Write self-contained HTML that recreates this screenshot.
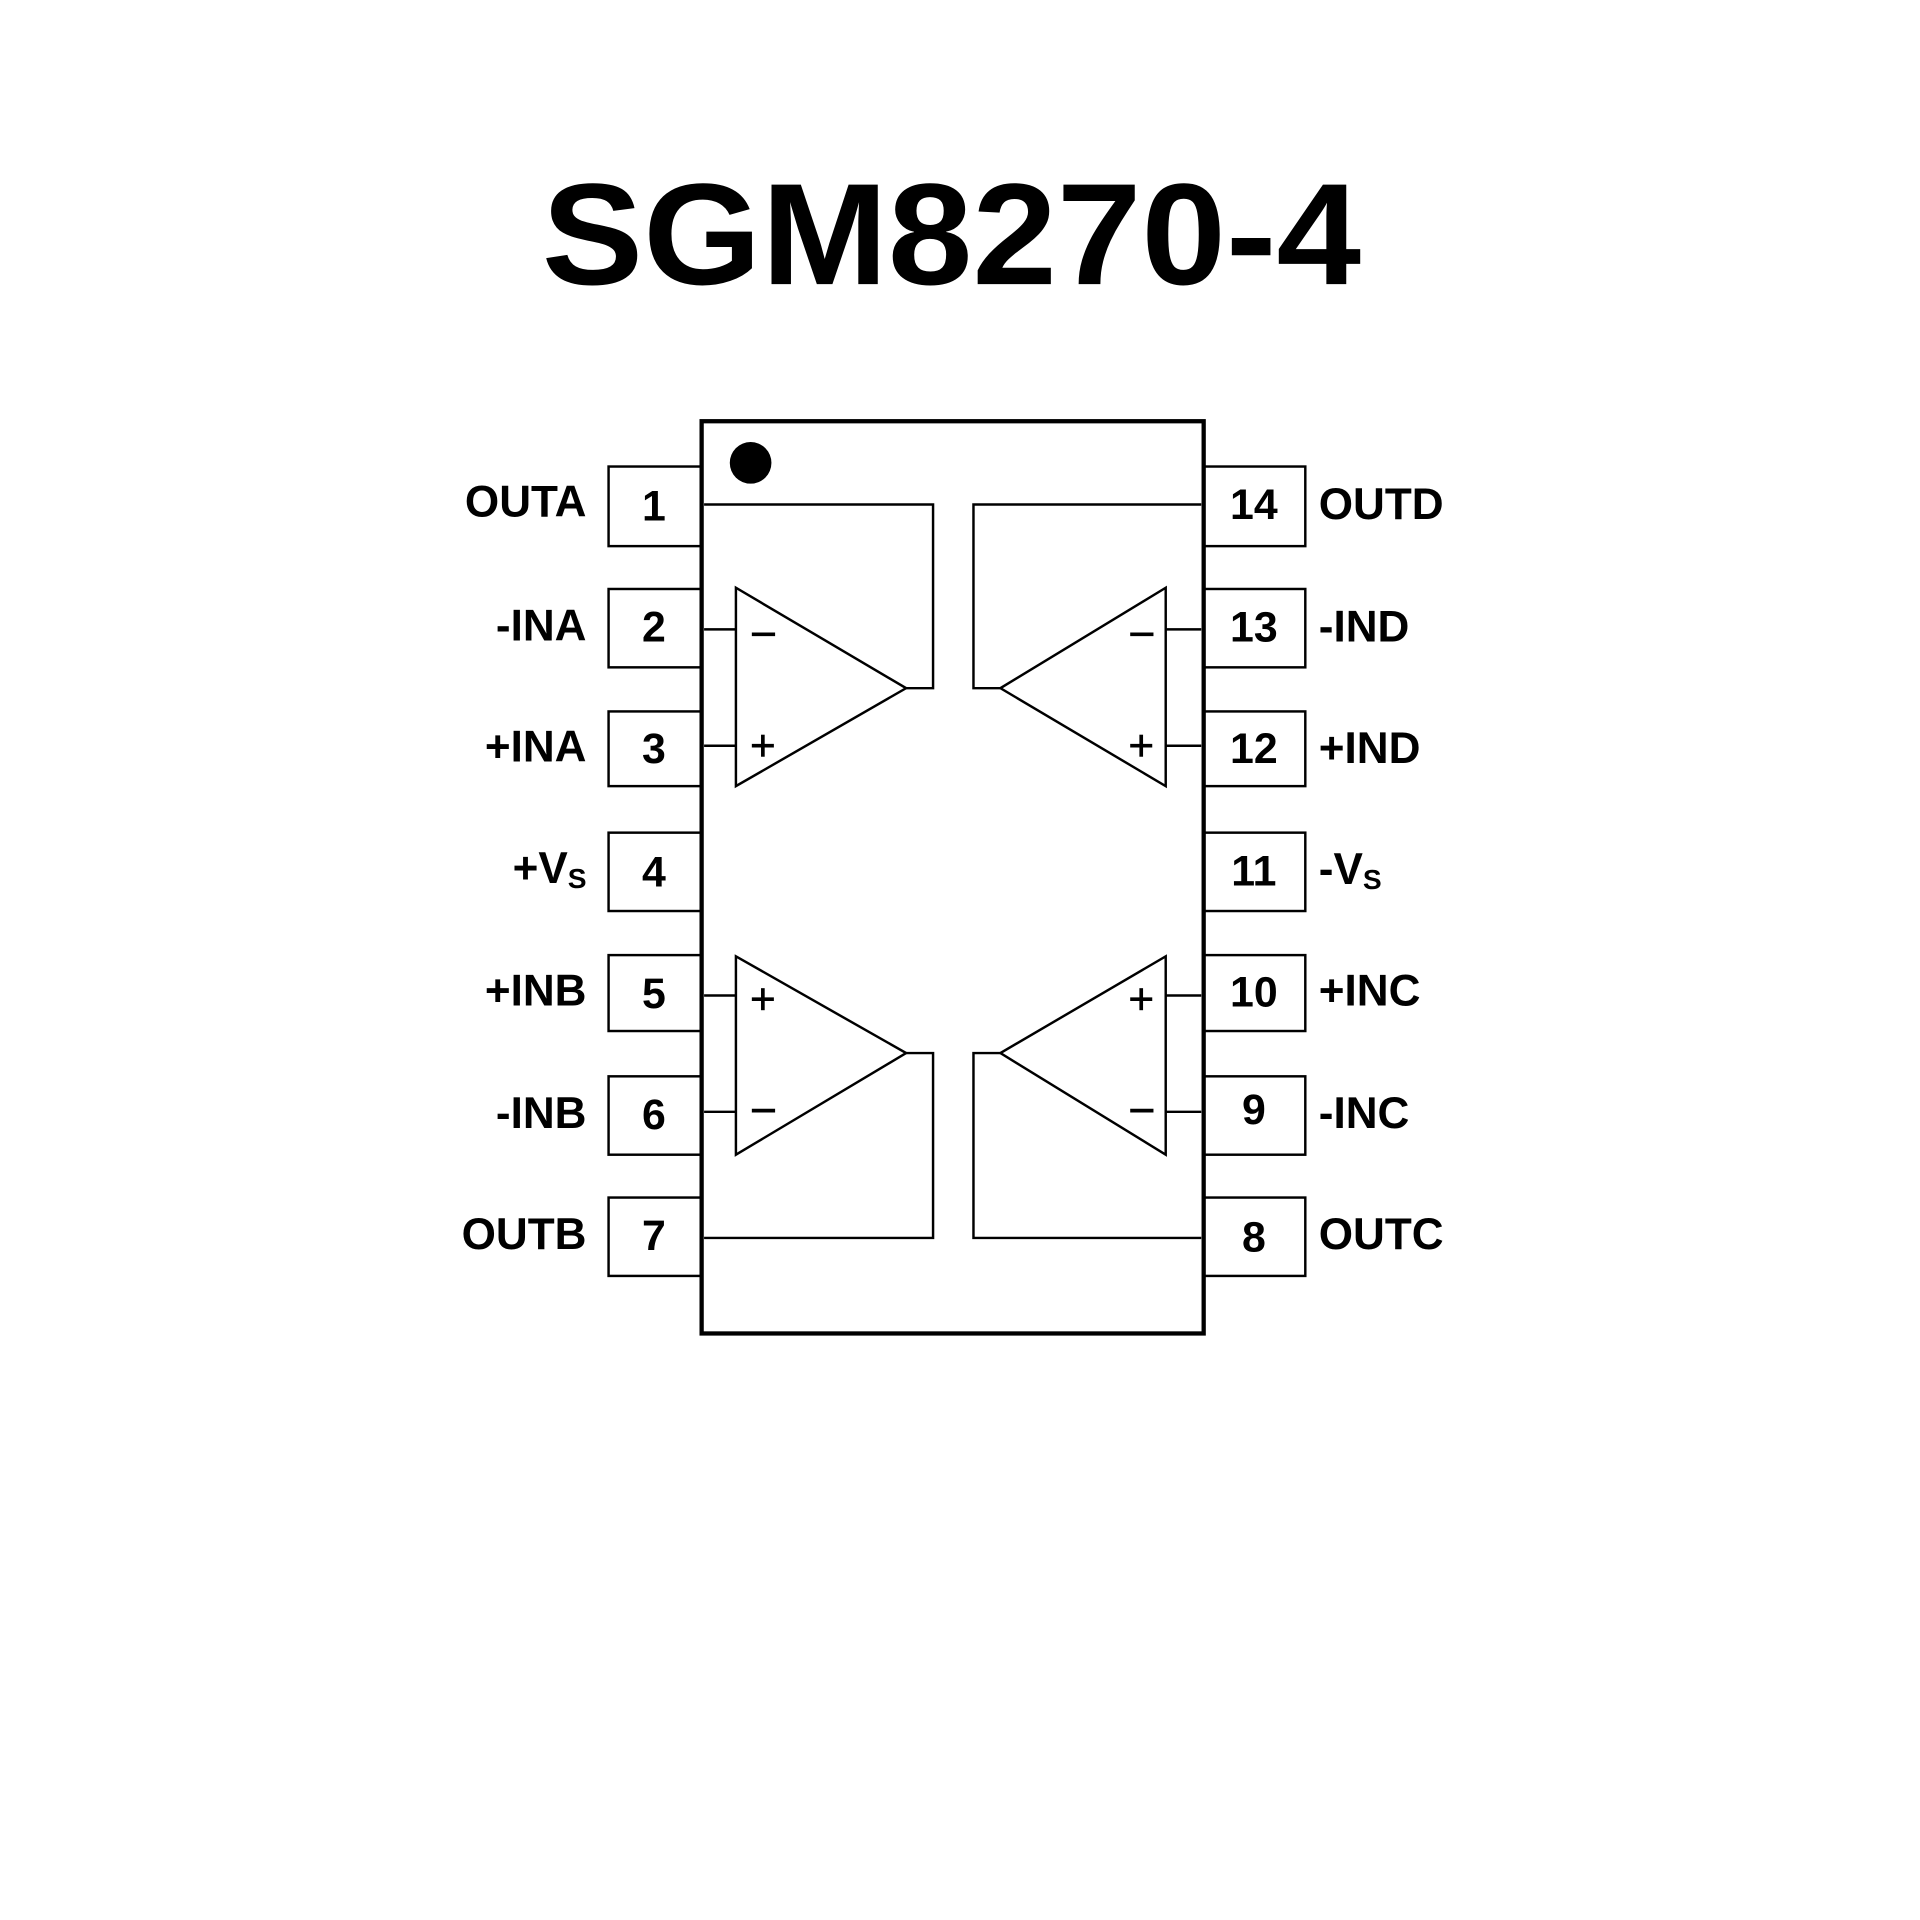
<!DOCTYPE html>
<html><head><meta charset="utf-8"><style>
html,body{margin:0;padding:0;background:#fff;}
svg{display:block;}
text{font-family:"Liberation Sans",Arial,sans-serif;font-weight:bold;fill:#000;}
</style></head><body>
<svg width="1920" height="1920" viewBox="0 0 1568 1568" xmlns="http://www.w3.org/2000/svg">
<rect width="1568" height="1568" fill="#fff"/>
<text x="777" y="232" font-size="118" text-anchor="middle" textLength="669" lengthAdjust="spacingAndGlyphs">SGM8270-4</text>
<g fill="none" stroke="#000">
<rect x="573" y="344" width="410" height="745" stroke-width="3.5"/>
<g stroke-width="2">
<rect x="497" y="381" width="76" height="65"/>
<rect x="497" y="481" width="76" height="64"/>
<rect x="497" y="581" width="76" height="61"/>
<rect x="497" y="680" width="76" height="64"/>
<rect x="497" y="780" width="76" height="62"/>
<rect x="497" y="879" width="76" height="64"/>
<rect x="497" y="978" width="76" height="64"/>
<rect x="983" y="381" width="83" height="65"/>
<rect x="983" y="481" width="83" height="64"/>
<rect x="983" y="581" width="83" height="61"/>
<rect x="983" y="680" width="83" height="64"/>
<rect x="983" y="780" width="83" height="62"/>
<rect x="983" y="879" width="83" height="64"/>
<rect x="983" y="978" width="83" height="64"/>
<polygon points="601,480 601,642 740,562"/>
<polyline points="740,562 762,562 762,412 575,412"/>
<line x1="575" y1="514" x2="601" y2="514"/>
<line x1="575" y1="609" x2="601" y2="609"/>
<polygon points="952,480 952,642 817,562"/>
<polyline points="817,562 795,562 795,412 981,412"/>
<line x1="952" y1="514" x2="981" y2="514"/>
<line x1="952" y1="609" x2="981" y2="609"/>
<polygon points="601,781 601,943 740,860"/>
<polyline points="740,860 762,860 762,1011 575,1011"/>
<line x1="575" y1="813" x2="601" y2="813"/>
<line x1="575" y1="908" x2="601" y2="908"/>
<polygon points="952,781 952,943 817,860"/>
<polyline points="817,860 795,860 795,1011 981,1011"/>
<line x1="952" y1="813" x2="981" y2="813"/>
<line x1="952" y1="908" x2="981" y2="908"/>
</g>
</g>
<circle cx="613" cy="378" r="17" fill="#000"/>
<g stroke="#000" stroke-width="3">
<line x1="614" y1="518" x2="633" y2="518"/>
<line x1="614" y1="609" x2="632" y2="609"/><line x1="623" y1="600" x2="623" y2="618"/>
<line x1="923" y1="518" x2="942" y2="518"/>
<line x1="923" y1="609" x2="941" y2="609"/><line x1="932" y1="600" x2="932" y2="618"/>
<line x1="614" y1="816" x2="632" y2="816"/><line x1="623" y1="807" x2="623" y2="825"/>
<line x1="614" y1="907" x2="633" y2="907"/>
<line x1="923" y1="816" x2="941" y2="816"/><line x1="932" y1="807" x2="932" y2="825"/>
<line x1="923" y1="907" x2="942" y2="907"/>
</g>
<g font-size="35" text-anchor="middle">
<text x="534" y="425">1</text>
<text x="534" y="524">2</text>
<text x="534" y="623">3</text>
<text x="534" y="724">4</text>
<text x="534" y="823">5</text>
<text x="534" y="922">6</text>
<text x="534" y="1021">7</text>
<text x="1024" y="424">14</text>
<text x="1024" y="524">13</text>
<text x="1024" y="623">12</text>
<text x="1024" y="723">11</text>
<text x="1024" y="822">10</text>
<text x="1024" y="918">9</text>
<text x="1024" y="1022">8</text>
</g>
<g font-size="36" text-anchor="end">
<text x="479" y="422">OUTA</text>
<text x="479" y="523">-INA</text>
<text x="479" y="622">+INA</text>
<text x="479" y="721">+V<tspan font-size="23" dy="4">S</tspan></text>
<text x="479" y="821">+INB</text>
<text x="479" y="921">-INB</text>
<text x="479" y="1020">OUTB</text>
</g>
<g font-size="36">
<text x="1077" y="424">OUTD</text>
<text x="1077" y="524">-IND</text>
<text x="1077" y="623">+IND</text>
<text x="1077" y="722">-V<tspan font-size="23" dy="4">S</tspan></text>
<text x="1077" y="821">+INC</text>
<text x="1077" y="921">-INC</text>
<text x="1077" y="1020">OUTC</text>
</g>
</svg>
</body></html>
